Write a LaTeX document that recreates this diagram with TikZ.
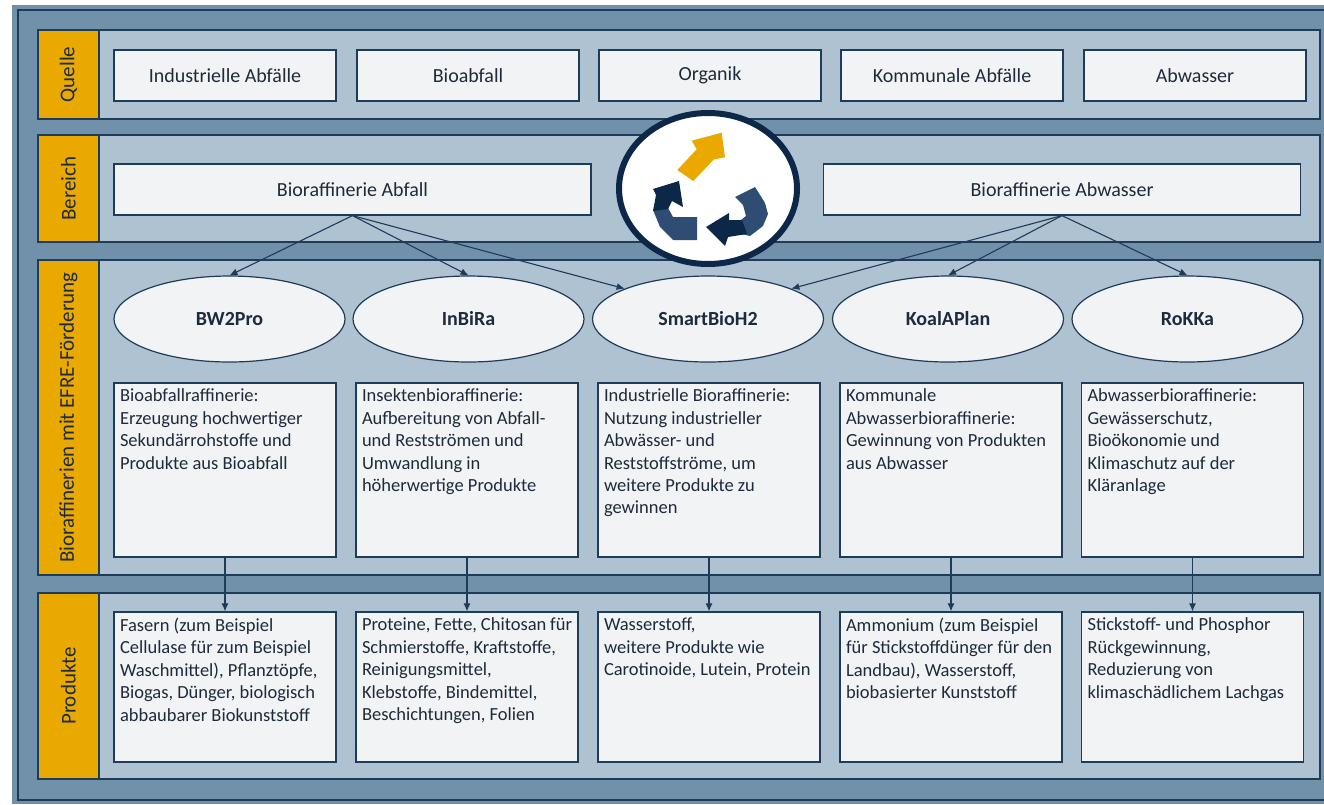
\documentclass[tikz,border=0pt]{standalone}
\usepackage{fontspec}
\setmainfont{Carlito}
\usetikzlibrary{shapes.geometric,arrows.meta}

\definecolor{outerbg}{HTML}{7190AA}
\definecolor{bandbg}{HTML}{AEC2D1}
\definecolor{labelyellow}{HTML}{E9A900}
\definecolor{boxbg}{HTML}{F1F3F5}
\definecolor{framecol}{HTML}{1F3B5A}
\definecolor{textcol}{HTML}{1E2B3C}
\definecolor{navy}{HTML}{0D2748}
\definecolor{midblue}{HTML}{2F4D72}

\newcommand{\boxtext}[2]{\parbox[t][#1][t]{210pt}{#2}}

\tikzset{
  band/.style={draw=framecol,fill=bandbg,line width=1.2pt},
  bandlabel/.style={draw=framecol,fill=labelyellow,line width=1.2pt},
  bandtitle/.style={rotate=90,text=textcol,font=\fontsize{21}{24}\selectfont},
  srcbox/.style={draw=framecol,fill=boxbg,line width=1.2pt,minimum width=222pt,minimum height=51pt,text=textcol,font=\fontsize{20}{24}\selectfont},
  areabox/.style={srcbox,minimum width=477pt},
  proj/.style={ellipse,draw=framecol,fill=boxbg,line width=1.2pt,minimum width=231pt,minimum height=86pt,inner sep=0pt,text=textcol,font=\fontsize{20}{24}\selectfont\bfseries},
  textbox/.style={draw=framecol,fill=boxbg,line width=1.2pt,inner sep=6pt,text=textcol,font=\fontsize{18.5}{22.4}\selectfont},
  link/.style={draw=framecol,line width=1.1pt,->}
}

\begin{document}
\begin{tikzpicture}[x=1pt,y=-1pt,>={Latex[length=8pt,width=7pt]}]
    \useasboundingbox (0,0) rectangle (1324,804);
    \fill[outerbg] (12,5) rectangle (1324,804);
    \draw[framecol,line width=1.2pt] (1324,10)--(18,10)--(18,800)--(1324,800);

    \draw[band] (38,30) rectangle (1320,119);
    \draw[bandlabel] (38,30) rectangle (99,119);
    \node[bandtitle] (quelle) at (68.5,74.5) {Quelle};
    \draw[band] (38,135) rectangle (1320,242);
    \draw[bandlabel] (38,135) rectangle (99,242);
    \node[bandtitle] (bereich) at (68.5,188.5) {Bereich};
    \draw[band] (38,260) rectangle (1320,575);
    \draw[bandlabel] (38,260) rectangle (99,575);
    \node[bandtitle] (bioraff) at (68.5,417.5) {Bioraffinerien mit EFRE-Förderung};
    \draw[band] (38,593) rectangle (1320,779);
    \draw[bandlabel] (38,593) rectangle (99,779);
    \node[bandtitle] (produkte) at (68.5,686) {Produkte};

    \node[srcbox] (industrie) at (225,75.5) {Industrielle Abfälle};
    \node[srcbox] (bioabfall) at (468,75.5) {Bioabfall};
    \node[srcbox] (organik) at (710,75.5) {Organik};
    \node[srcbox] (kommunal) at (952,75.5) {Kommunale Abfälle};
    \node[srcbox] (abwasserq) at (1195,75.5) {Abwasser};

    \node[areabox] (abfall) at (352.5,189.5) {Bioraffinerie Abfall};
    \node[areabox] (abwasser) at (1062,189.5) {Bioraffinerie Abwasser};

    \draw[navy,fill=white,line width=6pt] (708,188.5) ellipse [x radius=89,y radius=75.5];
    \fill[labelyellow] (693.3,181)--(677.3,170)--(696.7,149.3)--(691.7,140.7)--(721.7,132.7)--(725,157.3)--(714,159.3)--cycle;
    \fill[midblue] (653,210)--(668,208)--(673,217)--(697,217)--(697,240)--(673,240)--(660,227)--cycle;
    \fill[navy] (679,181)--(683,207)--(672,201)--(668,209)--(653,211)--(656,195)--(653,189)--cycle;
    \fill[midblue] (735,197)--(755,187)--(765,203)--(768,214)--(763,226)--(750,236)--(742,234)--(741,220)--(746,216)--(743,205)--cycle;
    \fill[navy] (706,227)--(729,213)--(729,220)--(742,220)--(747,234)--(728,237)--(725,246)--cycle;

    \node[proj] (bw2pro) at (229.5,319) {BW2Pro};
    \node[proj] (inbira) at (468.5,319) {InBiRa};
    \node[proj] (smart) at (708,319) {SmartBioH2};
    \node[proj] (koala) at (948,319) {KoalAPlan};
    \node[proj] (rokka) at (1187.5,319) {RoKKa};

    \node[textbox] (desc1) at (225,470) {\boxtext{162pt}{Bioabfallraffinerie:\\Erzeugung hochwertiger\\Sekundärrohstoffe und\\Produkte aus Bioabfall}};
    \node[textbox] (desc2) at (467,470) {\boxtext{162pt}{Insektenbioraffinerie:\\Aufbereitung von Abfall-\\und Restströmen und\\Umwandlung in\\höherwertige Produkte}};
    \node[textbox] (desc3) at (709,470) {\boxtext{162pt}{Industrielle Bioraffinerie:\\Nutzung industrieller\\Abwässer- und\\Reststoffströme, um\\weitere Produkte zu\\gewinnen}};
    \node[textbox] (desc4) at (951,470) {\boxtext{162pt}{Kommunale\\Abwasserbioraffinerie:\\Gewinnung von Produkten\\aus Abwasser}};
    \node[textbox] (desc5) at (1192.5,470) {\boxtext{162pt}{Abwasserbioraffinerie:\\Gewässerschutz,\\Bioökonomie und\\Klimaschutz auf der\\Kläranlage}};

    \node[textbox] (prod1) at (225,687) {\boxtext{138pt}{Fasern (zum Beispiel\\Cellulase für zum Beispiel\\Waschmittel), Pflanztöpfe,\\Biogas, Dünger, biologisch\\abbaubarer Biokunststoff}};
    \node[textbox] (prod2) at (467,687) {\boxtext{138pt}{Proteine, Fette, Chitosan für\\Schmierstoffe, Kraftstoffe,\\Reinigungsmittel,\\Klebstoffe, Bindemittel,\\Beschichtungen, Folien}};
    \node[textbox] (prod3) at (709,687) {\boxtext{138pt}{Wasserstoff,\\weitere Produkte wie\\Carotinoide, Lutein, Protein}};
    \node[textbox] (prod4) at (951,687) {\boxtext{138pt}{Ammonium (zum Beispiel\\für Stickstoffdünger für den\\Landbau), Wasserstoff,\\biobasierter Kunststoff}};
    \node[textbox] (prod5) at (1192.5,687) {\boxtext{138pt}{Stickstoff- und Phosphor\\Rückgewinnung,\\Reduzierung von\\klimaschädlichem Lachgas}};

    \draw[link] (abfall.south)--(bw2pro.north);
    \draw[link] (abfall.south)--(inbira.north);
    \draw[link] (abfall.south)--(smart.160);
    \draw[link] (abwasser.south)--(smart.20);
    \draw[link] (abwasser.south)--(koala.north);
    \draw[link] (abwasser.south)--(rokka.north);

    \draw[link] (desc1.south)--(prod1.north);
    \draw[link] (desc2.south)--(prod2.north);
    \draw[link] (desc3.south)--(prod3.north);
    \draw[link] (desc4.south)--(prod4.north);
    \draw[link] (desc5.south)--(prod5.north);
\end{tikzpicture}
\end{document}
